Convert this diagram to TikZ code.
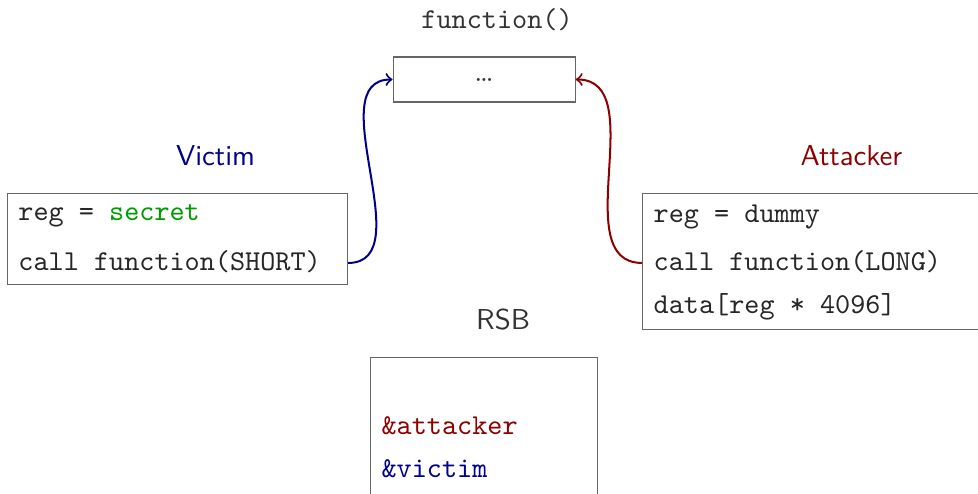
\documentclass[tikz,border=0pt]{standalone}
\usepackage{xcolor}
\usepackage{tikz}
\usetikzlibrary{positioning,calc}
\definecolor{victimblue}{RGB}{0,0,140}
\definecolor{attackred}{RGB}{140,0,0}
\definecolor{secretgreen}{RGB}{0,155,0}

\begin{document}
\begin{tikzpicture}[
    box/.style={draw=black!60, anchor=north west, inner sep=0pt, minimum width=118.1pt},
    title/.style={font=\sffamily, text=black!80},
    code/.style={font=\ttfamily, text=black!85, anchor=west, inner sep=0pt, text height=7pt, text depth=2pt},
    call/.style={->, line width=0.7pt}
]
\clip (0,0) rectangle (339.6pt,-171.2pt);

% boxes
\node[box, anchor=center, minimum width=63.2pt, minimum height=15.6pt, text=black!80] (func) at (168.1pt,-27.6pt) {\ldots};
\node[box, minimum height=31.6pt] (victim) at (2.4pt,-67pt) {};
\node[box, minimum height=47.2pt] (attacker) at (222.9pt,-67pt) {};
\node[box, minimum width=78.8pt, minimum height=60pt] (rsb) at (128.5pt,-124pt) {};

% titles
\node[title, font=\ttfamily] (functitle) at ($(func.north)+(4.5pt,12.9pt)$) {function()};
\node[title, text=victimblue] (victimtitle) at ($(victim.north)+(13.2pt,12.9pt)$) {Victim};
\node[title, text=attackred] (attackertitle) at ($(attacker.north)+(13.5pt,12.9pt)$) {Attacker};
\node[title] (rsbtitle) at ($(rsb.north)+(6.6pt,12.9pt)$) {RSB};

% victim code
\node[code] (vreg) at ($(victim.north west)+(3.8pt,-7pt)$) {reg = \textcolor{secretgreen}{secret}};
\node[code] (vcall) at ($(victim.north west)+(3.8pt,-24.3pt)$) {call function(SHORT)};

% attacker code
\node[code] (areg) at ($(attacker.north west)+(3.9pt,-7.7pt)$) {reg = dummy};
\node[code] (acall) at ($(attacker.north west)+(3.9pt,-24.3pt)$) {call function(LONG)};
\node[code] (adata) at ($(attacker.north west)+(3.9pt,-39.5pt)$) {data[reg * 4096]};

% RSB entries
\node[code, text=attackred] (rsbatt) at ($(rsb.north west)+(3.8pt,-24.3pt)$) {\&attacker};
\node[code, text=victimblue] (rsbvic) at ($(rsb.north west)+(3.8pt,-39.2pt)$) {\&victim};

% calls
\draw[call, victimblue] (victim.east |- vcall) to[out=0, in=180] (func.west);
\draw[call, attackred] (attacker.west |- acall) to[out=180, in=0] (func.east);
\end{tikzpicture}
\end{document}
